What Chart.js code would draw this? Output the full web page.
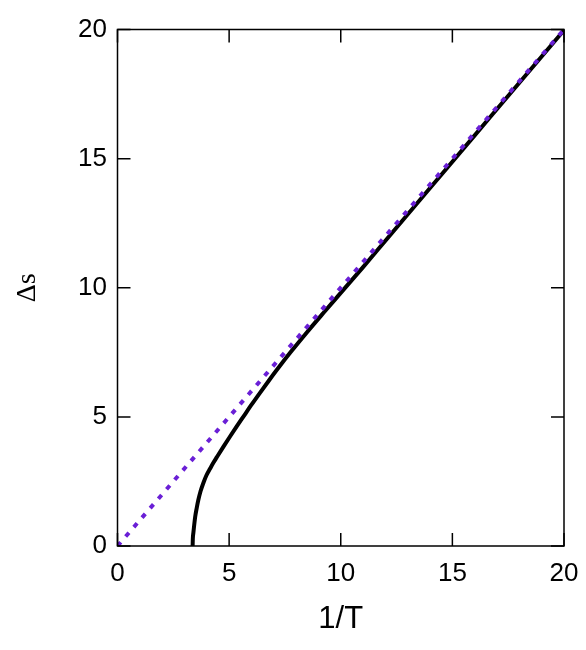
<!DOCTYPE html>
<html>
<head>
<meta charset="utf-8">
<script src="https://cdn.jsdelivr.net/npm/chart.js@4"></script>
<style>
  html, body { margin: 0; padding: 0; background: #fff; }
  #wrap { width: 586px; height: 650px; }
</style>
</head>
<body>
<div id="wrap"><canvas id="plot" width="586" height="650"></canvas></div>
<script>
// values
const invT = [3.365, 3.375, 3.40, 3.48, 3.55, 3.62, 3.72, 3.85, 3.98, 4.15, 4.30, 4.45, 4.74, 5.04, 5.34, 5.64, 6.02, 6.39, 6.76, 7.20, 7.74, 8.48, 9.23, 9.98, 11.0, 12.0, 14.0, 16.0, 18.0, 20.0];
const deltaS = [0.0, 0.30, 0.52, 1.13, 1.48, 1.78, 2.12, 2.45, 2.73, 3.0, 3.23, 3.44, 3.84, 4.24, 4.63, 5.01, 5.49, 5.94, 6.38, 6.89, 7.49, 8.27, 9.03, 9.78, 10.80, 11.82, 13.86, 15.90, 17.94, 19.97];
const limitX = [0, 20];
const limitY = [0, 20];
const tickValues = [0, 5, 10, 15, 20];

const toPoints = (xs, ys) => xs.map((x, i) => ({ x: x, y: ys[i] }));

// box around the plot plus inward ticks on all four sides
const frame = {
  id: 'frame',
  afterDatasetsDraw(chart) {
    const { ctx, chartArea: a, scales } = chart;
    const len = 13;
    ctx.save();
    ctx.strokeStyle = '#000';
    ctx.lineWidth = 1.5;
    ctx.strokeRect(a.left, a.top, a.right - a.left, a.bottom - a.top);
    ctx.beginPath();
    tickValues.forEach(v => {
      const px = scales.x.getPixelForValue(v);
      const py = scales.y.getPixelForValue(v);
      ctx.moveTo(px, a.bottom); ctx.lineTo(px, a.bottom - len);
      ctx.moveTo(px, a.top); ctx.lineTo(px, a.top + len);
      ctx.moveTo(a.left, py); ctx.lineTo(a.left + len, py);
      ctx.moveTo(a.right, py); ctx.lineTo(a.right - len, py);
    });
    ctx.stroke();
    ctx.restore();
  }
};

const tickFont = { family: '"Liberation Sans", Arial, sans-serif', size: 26 };

new Chart(document.getElementById('plot').getContext('2d'), {
  type: 'scatter',
  data: {
    datasets: [
      {
        label: 'limit',
        data: toPoints(limitX, limitY),
        showLine: true,
        borderColor: '#6a1fd6',
        borderWidth: 4,
        borderDash: [5, 7.5],
        pointRadius: 0,
        order: 0
      },
      {
        label: 'delta s',
        data: toPoints(invT, deltaS),
        showLine: true,
        borderColor: '#000',
        borderWidth: 4,
        pointRadius: 0,
        cubicInterpolationMode: 'monotone',
        order: 1
      }
    ]
  },
  options: {
    responsive: false,
    animation: false,
    devicePixelRatio: 1,
    layout: { padding: { left: 0, right: 22, top: 29.5, bottom: 0 } },
    plugins: {
      legend: { display: false },
      tooltip: { enabled: false }
    },
    scales: {
      x: {
        type: 'linear',
        min: 0,
        max: 20,
        grid: { display: false, drawTicks: false },
        border: { display: false },
        afterBuildTicks: s => { s.ticks = tickValues.map(v => ({ value: v })); },
        afterFit: s => { s.height = 104; s.paddingLeft = 0; s.paddingRight = 0; },
        ticks: { color: '#000', font: tickFont, padding: 12, maxRotation: 0 },
        title: {
          display: true,
          text: '1/T',
          color: '#000',
          font: { family: '"Liberation Sans", Arial, sans-serif', size: 31 },
          padding: { top: 0, bottom: 12 }
        }
      },
      y: {
        type: 'linear',
        min: 0,
        max: 20,
        grid: { display: false, drawTicks: false },
        border: { display: false },
        afterBuildTicks: s => { s.ticks = tickValues.map(v => ({ value: v })); },
        afterFit: s => { s.width = 117.5; s.paddingTop = 0; s.paddingBottom = 0; },
        ticks: { color: '#000', font: tickFont, padding: 10.5 },
        title: {
          display: true,
          text: 'Δs',
          color: '#000',
          font: { family: '"Liberation Serif", "Times New Roman", serif', size: 28 },
          padding: { top: 11, bottom: 0 }
        }
      }
    }
  },
  plugins: [frame]
});
</script>
</body>
</html>
